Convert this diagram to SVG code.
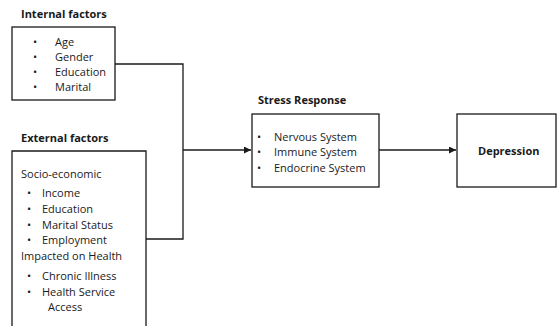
<svg xmlns="http://www.w3.org/2000/svg" width="557" height="326" viewBox="0 0 557 326">
<defs>
<style>
.box{fill:#fff;stroke:#1a1a1a;stroke-width:1.3}
.t{font-family:"Open Sans","Noto Sans",sans-serif;font-size:11px;fill:#1a1a1a}
.b{font-family:"Open Sans","Noto Sans",sans-serif;font-size:11px;font-weight:bold;fill:#1a1a1a}
.ln{fill:none;stroke:#1a1a1a;stroke-width:1.3}
</style>
<marker id="ah" viewBox="0 0 10 10" refX="10" refY="5" markerWidth="7" markerHeight="7" markerUnits="userSpaceOnUse" orient="auto">
<path d="M0,0 L10,5 L0,10 z" fill="#1a1a1a"/>
</marker>
</defs>
<rect width="557" height="326" fill="#fff"/>
<g id="connectors">
<polyline class="ln" points="115,64 183,64 183,239 146,239"/>
<line class="ln" x1="183" y1="150" x2="251" y2="150" marker-end="url(#ah)"/>
<line class="ln" x1="379" y1="150" x2="456" y2="150" marker-end="url(#ah)"/>
</g>
<g id="internal">
<text class="b" x="21" y="18">Internal factors</text>
<rect class="box" x="12" y="27" width="103" height="73"/>
<text class="t" x="33" y="46">•</text><text class="t" x="55" y="46">Age</text>
<text class="t" x="33" y="61">•</text><text class="t" x="55" y="61">Gender</text>
<text class="t" x="33" y="76">•</text><text class="t" x="55" y="76">Education</text>
<text class="t" x="33" y="91">•</text><text class="t" x="55" y="91">Marital</text>
</g>
<g id="external">
<text class="b" x="21" y="142">External factors</text>
<path class="ln" d="M12,327 V151 H146 V327"/>
<text class="t" x="21" y="178">Socio-economic</text>
<text class="t" x="27" y="197">•</text><text class="t" x="42" y="197">Income</text>
<text class="t" x="27" y="213">•</text><text class="t" x="42" y="213">Education</text>
<text class="t" x="27" y="229">•</text><text class="t" x="42" y="229">Marital Status</text>
<text class="t" x="27" y="244">•</text><text class="t" x="42" y="244">Employment</text>
<text class="t" x="21" y="260">Impacted on Health</text>
<text class="t" x="27" y="280">•</text><text class="t" x="42" y="280">Chronic Illness</text>
<text class="t" x="27" y="296">•</text><text class="t" x="42" y="296">Health Service</text>
<text class="t" x="48" y="311">Access</text>
</g>
<g id="stress">
<text class="b" x="258" y="104">Stress Response</text>
<rect class="box" x="252" y="114" width="127" height="73"/>
<text class="t" x="257" y="141">•</text><text class="t" x="274" y="141">Nervous System</text>
<text class="t" x="257" y="156">•</text><text class="t" x="274" y="156">Immune System</text>
<text class="t" x="257" y="172">•</text><text class="t" x="274" y="172">Endocrine System</text>
</g>
<g id="depression">
<rect class="box" x="457" y="114" width="99" height="73"/>
<text class="b" x="478" y="155">Depression</text>
</g>
</svg>
